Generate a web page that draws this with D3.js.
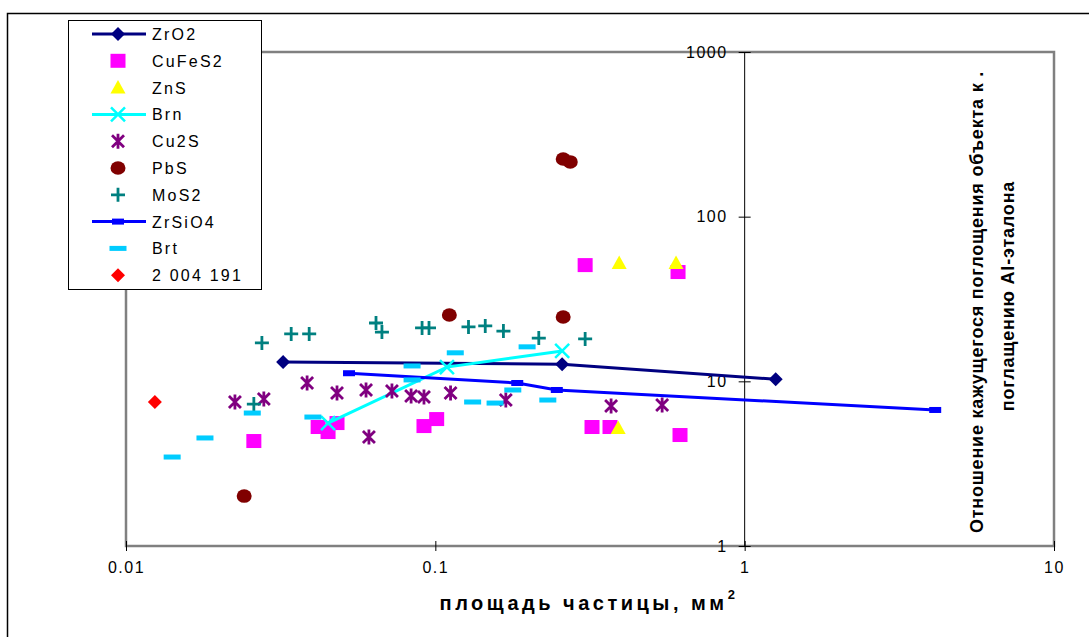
<!DOCTYPE html>
<html>
<head>
<meta charset="utf-8">
<script src="https://cdn.jsdelivr.net/npm/d3@7"></script>
<style>
  body { margin: 0; background: #fff; }
  svg { display: block; font-family: "Liberation Sans", Arial, sans-serif; }
</style>
</head>
<body>
<svg></svg>
<script>
// series data: [area mm2, ratio]
const zro2 = [[0.0322, 13.1], [0.257, 12.7], [1.26, 10.3]];
const cufes2 = [[0.0259, 4.34], [0.0418, 5.28], [0.045, 4.92], [0.0481, 5.58], [0.0919, 5.35], [0.101, 5.9],
  [0.305, 50.8], [0.609, 46.1], [0.321, 5.28], [0.367, 5.28], [0.618, 4.72]];
const zns = [[0.393, 52.3], [0.600, 52.3], [0.390, 5.21]];
const brn = [[0.045, 5.58], [0.109, 12.2], [0.257, 15.3]];
const cu2s = [[0.0225, 7.49], [0.0279, 7.81], [0.0385, 9.77], [0.0481, 8.49], [0.0597, 8.86], [0.0724, 8.73],
  [0.0835, 8.14], [0.0919, 8.03], [0.112, 8.49], [0.169, 7.7], [0.37, 7.08], [0.541, 7.18], [0.061, 4.59]];
const pbs = [[0.0241, 2.01], [0.111, 25.3], [0.259, 224], [0.273, 215], [0.259, 24.6]];
const mos2 = [[0.0275, 17.1], [0.0342, 19.4], [0.0391, 19.4], [0.0643, 22.6], [0.0672, 19.9], [0.0906, 21.1],
  [0.0954, 21.1], [0.128, 21.4], [0.145, 21.7], [0.166, 20.2], [0.216, 18.3], [0.305, 18.1], [0.0259, 7.28]];
const zrsio4 = [[0.0526, 11.2], [0.184, 9.77], [0.247, 8.86], [4.13, 6.7]];
const brt = [[0.0141, 3.47], [0.018, 4.53], [0.0256, 6.42], [0.0402, 6.07], [0.0841, 12.4], [0.0841, 10.2],
  [0.116, 14.9], [0.132, 7.49], [0.156, 7.38], [0.178, 8.86], [0.198, 16.2], [0.231, 7.7]];
const sample = [[0.0124, 7.49]];

const seriesNames = ["ZrO2", "CuFeS2", "ZnS", "Brn", "Cu2S", "PbS", "MoS2", "ZrSiO4", "Brt", "2 004 191"];
const seriesData = [zro2, cufes2, zns, brn, cu2s, pbs, mos2, zrsio4, brt, sample];
const xTicks = [0.01, 0.1, 1, 10];
const xTickLabels = ["0.01", "0.1", "1", "10"];
const yTicks = [1, 10, 100, 1000];
const yTickLabels = ["1", "10", "100", "1000"];

const w = 1089;
const h = 637;
const svg = d3.select("svg").attr("width", w).attr("height", h);

// looks of each series
const styles = {
  "ZrO2": { color: "#000080", marker: "diamond", line: true },
  "CuFeS2": { color: "#ff00ff", marker: "square" },
  "ZnS": { color: "#ffff00", marker: "triangle" },
  "Brn": { color: "#00ffff", marker: "x", line: true },
  "Cu2S": { color: "#800080", marker: "star" },
  "PbS": { color: "#800000", marker: "circle" },
  "MoS2": { color: "#008080", marker: "plus" },
  "ZrSiO4": { color: "#0000ff", marker: "smallbar", line: true },
  "Brt": { color: "#00ccff", marker: "dash" },
  "2 004 191": { color: "#ff0000", marker: "diamond" }
};

// outer frame
svg.append("rect").attr("x", 7.5).attr("y", 13.5).attr("width", 1200).attr("height", 700)
  .attr("fill", "#fff").attr("stroke", "#000").attr("stroke-width", 1.5);

const plot = { left: 126, right: 1054, top: 52, bottom: 546 };

const x = d3.scaleLog().domain([0.01, 10]).range([plot.left, plot.right]);
const y = d3.scaleLog().domain([1, 1000]).range([plot.bottom, plot.top]);

// plot area
svg.append("rect")
  .attr("x", plot.left).attr("y", plot.top)
  .attr("width", plot.right - plot.left).attr("height", plot.bottom - plot.top)
  .attr("fill", "#fff").attr("stroke", "#808080").attr("stroke-width", 2.5);

// x axis
const xAxis = d3.axisBottom(x).tickValues(xTicks)
  .tickFormat((d, i) => xTickLabels[i]).tickSize(5).tickPadding(11);
const gx = svg.append("g").attr("transform", "translate(0," + plot.bottom + ")").call(xAxis);
gx.select(".domain").remove();
gx.selectAll(".tick line").attr("y1", -5).attr("y2", 5).attr("stroke", "#000");
gx.selectAll(".tick text").attr("font-size", 16).attr("font-family", "Liberation Sans, Arial")
  .attr("letter-spacing", 1.5).attr("fill", "#000");

// y axis sits at x = 1
const yAxis = d3.axisLeft(y).tickValues(yTicks)
  .tickFormat((d, i) => yTickLabels[i]).tickSize(6).tickPadding(11);
const gy = svg.append("g").attr("transform", "translate(" + x(1) + ",0)").call(yAxis);
gy.select(".domain").attr("stroke", "#000").attr("d", "M0," + plot.top + "V" + plot.bottom);
gy.selectAll(".tick line").attr("x1", -6).attr("x2", 6).attr("stroke", "#000");
gy.selectAll(".tick text").attr("font-size", 16).attr("font-family", "Liberation Sans, Arial")
  .attr("letter-spacing", 1.5).attr("fill", "#000");

// marker drawing
function marker(g, type, color) {
  if (type === "diamond") {
    g.append("path").attr("d", "M0,-7L7,0L0,7L-7,0Z").attr("fill", color);
  } else if (type === "square") {
    g.append("rect").attr("x", -7.5).attr("y", -7).attr("width", 15).attr("height", 14).attr("fill", color);
  } else if (type === "triangle") {
    g.append("path").attr("d", "M0,-7.5L7.5,6L-7.5,6Z").attr("fill", color);
  } else if (type === "circle") {
    g.append("ellipse").attr("rx", 7.5).attr("ry", 6.8).attr("fill", color);
  } else if (type === "x") {
    g.append("path").attr("d", "M-7,-7L7,7M-7,7L7,-7").attr("stroke", color).attr("stroke-width", 2.5);
  } else if (type === "star") {
    g.append("path").attr("d", "M-6,-6L6,6M-6,6L6,-6M0,-7.5V7.5").attr("stroke", color).attr("stroke-width", 2.8);
  } else if (type === "plus") {
    g.append("path").attr("d", "M-7,0H7M0,-7V7").attr("stroke", color).attr("stroke-width", 2.8);
  } else if (type === "dash") {
    g.append("rect").attr("x", -8.5).attr("y", -2.5).attr("width", 17).attr("height", 5).attr("fill", color);
  } else if (type === "smallbar") {
    g.append("rect").attr("x", -6).attr("y", -3).attr("width", 12).attr("height", 6).attr("fill", color);
  }
}

const line = d3.line().x(d => x(d[0])).y(d => y(d[1]));

seriesNames.forEach((name, i) => {
  const st = styles[name];
  const data = seriesData[i];
  if (st.line) {
    svg.append("path").datum(data).attr("d", line)
      .attr("fill", "none").attr("stroke", st.color).attr("stroke-width", 3);
  }
  svg.append("g").selectAll("g").data(data).enter().append("g")
    .attr("transform", d => "translate(" + x(d[0]) + "," + y(d[1]) + ")")
    .each(function () { marker(d3.select(this), st.marker, st.color); });
});

// legend
const legend = svg.append("g");
legend.append("rect").attr("x", 68.5).attr("y", 20.5).attr("width", 193).attr("height", 269)
  .attr("fill", "#fff").attr("stroke", "#000").attr("stroke-width", 1);
seriesNames.forEach((name, i) => {
  const st = styles[name];
  const ly = 34 + i * 26.8;
  const row = legend.append("g").attr("transform", "translate(118," + ly + ")");
  if (st.line) {
    row.append("path").attr("d", "M-26,0H28").attr("stroke", st.color).attr("stroke-width", 3);
  }
  marker(row, st.marker, st.color);
  legend.append("text").attr("x", 152).attr("y", ly + 6)
    .attr("font-size", 16).attr("letter-spacing", 2.2).attr("fill", "#000").text(name);
});

// axis titles
const xt = svg.append("text").attr("x", 589).attr("y", 610).attr("text-anchor", "middle")
  .attr("font-size", 20).attr("font-weight", "bold").attr("letter-spacing", 3.5).attr("fill", "#000");
xt.append("tspan").text("площадь частицы, мм");
xt.append("tspan").attr("dy", -11).attr("font-size", 13).text("2");

svg.append("text").attr("transform", "translate(983,302) rotate(-90)").attr("text-anchor", "middle")
  .attr("font-size", 18).attr("font-weight", "bold").attr("letter-spacing", 0.8).attr("fill", "#000")
  .text("Отношение кажущегося поглощения объекта к  .");
svg.append("text").attr("transform", "translate(1014,296) rotate(-90)").attr("text-anchor", "middle")
  .attr("font-size", 18).attr("font-weight", "bold").attr("letter-spacing", 0.8).attr("fill", "#000")
  .text("поглащению  Al-эталона");
</script>
</body>
</html>
